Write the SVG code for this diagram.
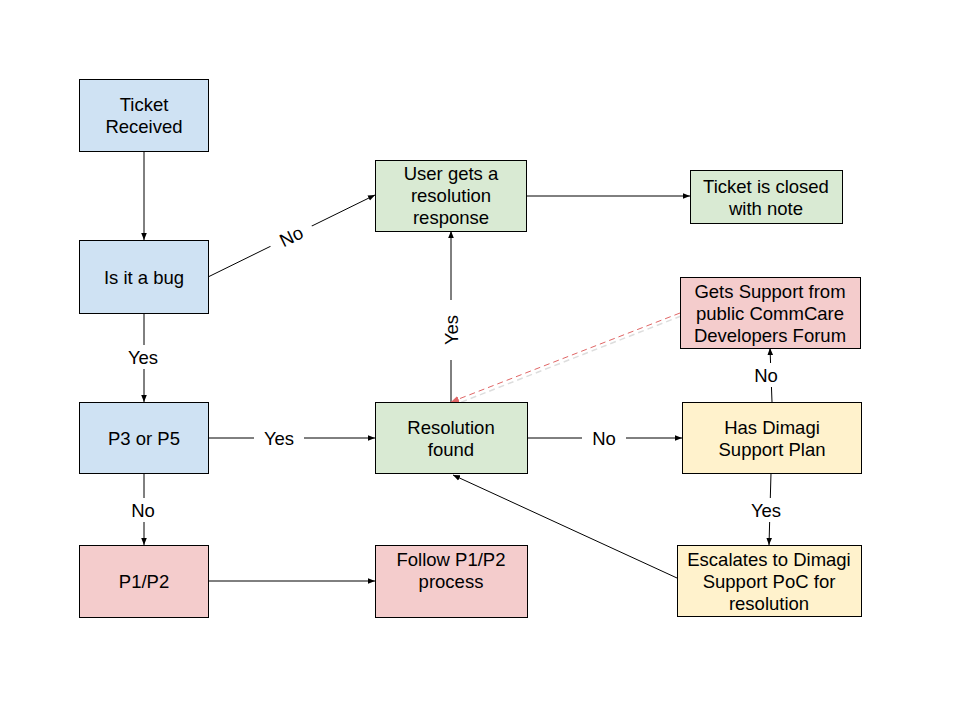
<svg xmlns="http://www.w3.org/2000/svg" width="960" height="720" viewBox="0 0 960 720">
<defs>
<style>
.n{stroke:#000;stroke-width:1}
.b{fill:#cfe2f3}.g{fill:#d9ead3}.r{fill:#f4cccc}.y{fill:#fff2cc}
text{font-family:"Liberation Sans",Arial,sans-serif;font-size:18.5px;fill:#000;text-anchor:middle}
.c{stroke:#000;stroke-width:1;fill:none;marker-end:url(#a)}
</style>
<marker id="a" viewBox="0 0 10 10" refX="10" refY="5" markerWidth="7" markerHeight="7" markerUnits="userSpaceOnUse" orient="auto"><path d="M0,1 L10,5 L0,9 z" fill="#000"/></marker>
<marker id="ar" viewBox="0 0 10 10" refX="10" refY="5" markerWidth="8" markerHeight="8" markerUnits="userSpaceOnUse" orient="auto"><path d="M0,1 L10,5 L0,9 z" fill="#e06666"/></marker>
</defs>
<rect width="960" height="720" fill="#fff"/>
<g id="connectors">
<line class="c" x1="144" y1="151" x2="144" y2="240"/>
<line class="c" x1="208" y1="277" x2="375" y2="195"/>
<line class="c" x1="144" y1="313" x2="144" y2="402"/>
<line class="c" x1="144" y1="473" x2="144" y2="545"/>
<line class="c" x1="208" y1="438" x2="375" y2="438"/>
<line class="c" x1="451" y1="402" x2="451" y2="231"/>
<line class="c" x1="527" y1="438" x2="682" y2="438"/>
<line class="c" x1="526" y1="196" x2="690" y2="196"/>
<line class="c" x1="772" y1="402" x2="770" y2="348"/>
<line class="c" x1="771" y1="473" x2="769" y2="545"/>
<line class="c" x1="677" y1="578" x2="453" y2="475"/>
<line class="c" x1="208" y1="581" x2="375" y2="581"/>
<line x1="681" y1="316" x2="454" y2="405" stroke="#ddd" stroke-width="1.5" stroke-dasharray="6,4"/>
<line x1="680" y1="313" x2="451" y2="402" stroke="#e06666" stroke-width="1" stroke-dasharray="6,4" marker-end="url(#ar)"/>
<rect x="268" y="221" width="46" height="30" fill="#fff" transform="rotate(-26 291 236)"/>
<text x="291" y="243" transform="rotate(-26 291 236)">No</text>
<rect x="122" y="345" width="44" height="24" fill="#fff"/>
<text x="143" y="364">Yes</text>
<rect x="124" y="498" width="40" height="24" fill="#fff"/>
<text x="143" y="517">No</text>
<rect x="254" y="426" width="50" height="24" fill="#fff"/>
<text x="279" y="445">Yes</text>
<rect x="439" y="300" width="24" height="60" fill="#fff"/>
<text x="451" y="337" transform="rotate(-90 451 330)">Yes</text>
<rect x="582" y="426" width="44" height="24" fill="#fff"/>
<text x="604" y="445">No</text>
<rect x="750" y="363" width="34" height="24" fill="#fff"/>
<text x="766" y="382">No</text>
<rect x="744" y="498" width="44" height="24" fill="#fff"/>
<text x="766" y="517">Yes</text>
</g>
<g id="ticket-received"><rect class="n b" x="79.5" y="79.5" width="129" height="72"/><text x="144" y="111">Ticket</text><text x="144" y="133">Received</text></g>
<g id="is-it-a-bug"><rect class="n b" x="79.5" y="240.5" width="129" height="73"/><text x="144" y="284">Is it a bug</text></g>
<g id="p3-or-p5"><rect class="n b" x="79.5" y="402.5" width="129" height="71"/><text x="144" y="445">P3 or P5</text></g>
<g id="p1-p2"><rect class="n r" x="79.5" y="545.5" width="129" height="72"/><text x="144" y="588">P1/P2</text></g>
<g id="user-gets"><rect class="n g" x="375.5" y="160.5" width="151" height="71"/><text x="451" y="180">User gets a</text><text x="451" y="202">resolution</text><text x="451" y="224">response</text></g>
<g id="ticket-closed"><rect class="n g" x="690.5" y="170.5" width="152" height="53"/><text x="766" y="193">Ticket is closed</text><text x="766" y="215">with note</text></g>
<g id="gets-support"><rect class="n r" x="680.5" y="277.5" width="180" height="71"/><text x="770" y="298">Gets Support from</text><text x="770" y="320">public CommCare</text><text x="770" y="342">Developers Forum</text></g>
<g id="resolution-found"><rect class="n g" x="375.5" y="402.5" width="152" height="71"/><text x="451" y="434">Resolution</text><text x="451" y="456">found</text></g>
<g id="has-dimagi"><rect class="n y" x="682.5" y="402.5" width="179" height="71"/><text x="772" y="434">Has Dimagi</text><text x="772" y="456">Support Plan</text></g>
<g id="escalates"><rect class="n y" x="677.5" y="545.5" width="184" height="71"/><text x="769" y="566">Escalates to Dimagi</text><text x="769" y="588">Support PoC for</text><text x="769" y="610">resolution</text></g>
<g id="follow-p1-p2"><rect class="n r" x="375.5" y="545.5" width="152" height="72"/><text x="451" y="566">Follow P1/P2</text><text x="451" y="588">process</text></g>
</svg>
